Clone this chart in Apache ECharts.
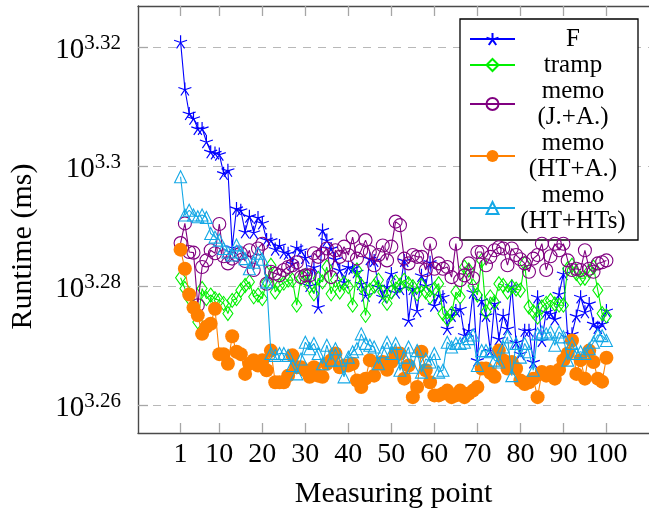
<!DOCTYPE html>
<html>
<head>
<meta charset="utf-8">
<script src="https://cdn.jsdelivr.net/npm/echarts@6/dist/echarts.min.js"></script>
<style>
html,body{margin:0;padding:0;background:#fff;}
#chart{width:649px;height:516px;}
</style>
</head>
<body>
<div id="chart"></div>
<script>
// Measuring points 1..100
const measuringPoints = Array.from({length: 100}, (_, i) => i + 1);

// log10(runtime in ms)
const seriesF = [
3.3209,3.3130,3.3089,3.3081,3.3064,3.3064,3.3042,3.3025,3.3023,3.3021,
3.2989,3.2994,3.2865,3.2930,3.2927,3.2891,3.2917,3.2890,3.2915,3.2906,
3.2878,3.2877,3.2862,3.2868,3.2857,3.2855,3.2838,3.2865,3.2860,3.2848,
3.2801,3.2832,3.2765,3.2894,3.2877,3.2863,3.2845,3.2827,3.2807,3.2832,
3.2830,3.2824,3.2804,3.2785,3.2846,3.2843,3.2799,3.2782,3.2799,3.2821,
3.2790,3.2796,3.2843,3.2743,3.2796,3.2759,3.2818,3.2801,3.2840,3.2768,
3.2785,3.2782,3.2729,3.2751,3.2759,3.2762,3.2718,3.2726,3.2790,3.2676,
3.2776,3.2751,3.2692,3.2771,3.2712,3.2751,3.2729,3.2800,3.2706,3.2687,
3.2726,3.2726,3.2673,3.2782,3.2709,3.2757,3.2754,3.2745,3.2787,3.2821,
3.2715,3.2720,3.2750,3.2782,3.2757,3.2771,3.2737,3.2731,3.2737,3.2759
];
const seriesTramp = [
3.2814,3.2796,3.2780,3.2765,3.2740,3.2796,3.2779,3.2785,3.2779,3.2776,
3.2771,3.2754,3.2776,3.2779,3.2793,3.2801,3.2807,3.2782,3.2785,3.2779,
3.2807,3.2835,3.2790,3.2801,3.2805,3.2810,3.2810,3.2768,3.2813,3.2818,
3.2800,3.2787,3.2813,3.2807,3.2832,3.2787,3.2810,3.2790,3.2805,3.2799,
3.2768,3.2827,3.2801,3.2751,3.2793,3.2800,3.2810,3.2790,3.2771,3.2790,
3.2807,3.2801,3.2810,3.2804,3.2799,3.2787,3.2801,3.2790,3.2782,3.2795,
3.2804,3.2754,3.2745,3.2754,3.2790,3.2782,3.2832,3.2827,3.2800,3.2785,
3.2843,3.2757,3.2782,3.2773,3.2804,3.2801,3.2790,3.2799,3.2795,3.2793,
3.2838,3.2765,3.2757,3.2748,3.2765,3.2771,3.2776,3.2770,3.2768,3.2768,
3.2829,3.2835,3.2821,3.2813,3.2813,3.2825,3.2832,3.2793,3.2754,3.2750
];
const seriesMemoJA = [
3.2872,3.2905,3.2857,3.2856,3.2768,3.2832,3.2843,3.2860,3.2855,3.2904,
3.2850,3.2838,3.2846,3.2852,3.2855,3.2842,3.2860,3.2827,3.2863,3.2871,
3.2804,3.2824,3.2821,3.2818,3.2827,3.2832,3.2835,3.2840,3.2815,3.2818,
3.2818,3.2855,3.2849,3.2854,3.2863,3.2815,3.2860,3.2849,3.2866,3.2852,
3.2882,3.2846,3.2860,3.2877,3.2857,3.2835,3.2852,3.2868,3.2843,3.2866,
3.2908,3.2902,3.2846,3.2838,3.2852,3.2849,3.2849,3.2827,3.2871,3.2829,
3.2838,3.2829,3.2832,3.2815,3.2871,3.2810,3.2818,3.2838,3.2813,3.2857,
3.2857,3.2835,3.2849,3.2860,3.2865,3.2863,3.2835,3.2863,3.2852,3.2845,
3.2838,3.2824,3.2846,3.2852,3.2871,3.2827,3.2850,3.2871,3.2860,3.2871,
3.2843,3.2827,3.2829,3.2827,3.2860,3.2829,3.2824,3.2838,3.2840,3.2843
];
const seriesMemoHTA = [
3.2861,3.2829,3.2786,3.2764,3.2751,3.2720,3.2732,3.2737,3.2762,3.2686,
3.2686,3.2670,3.2716,3.2690,3.2686,3.2653,3.2670,3.2676,3.2667,3.2676,
3.2659,3.2692,3.2639,3.2639,3.2639,3.2650,3.2684,3.2664,3.2664,3.2659,
3.2648,3.2664,3.2650,3.2648,3.2670,3.2676,3.2687,3.2664,3.2667,3.2667,
3.2670,3.2642,3.2631,3.2645,3.2676,3.2650,3.2670,3.2673,3.2660,3.2673,
3.2687,3.2687,3.2645,3.2667,3.2614,3.2631,3.2690,3.2659,3.2639,3.2617,
3.2617,3.2620,3.2625,3.2614,3.2617,3.2625,3.2614,3.2620,3.2625,3.2631,
3.2662,3.2662,3.2655,3.2648,3.2692,3.2676,3.2662,3.2673,3.2662,3.2642,
3.2636,3.2639,3.2645,3.2614,3.2656,3.2650,3.2656,3.2645,3.2660,3.2676,
3.2687,3.2709,3.2653,3.2676,3.2645,3.2692,3.2673,3.2645,3.2640,3.2680
];
const seriesMemoHTHTs = [
3.2983,3.2919,3.2927,3.2919,3.2916,3.2919,3.2915,3.2888,3.2882,3.2877,
3.2863,3.2857,3.2852,3.2869,3.2857,3.2846,3.2829,3.2840,3.2855,3.2845,
3.2807,3.2687,3.2684,3.2687,3.2687,3.2684,3.2667,3.2653,3.2678,3.2706,
3.2695,3.2704,3.2687,3.2670,3.2701,3.2676,3.2695,3.2676,3.2648,3.2681,
3.2690,3.2695,3.2720,3.2704,3.2701,3.2698,3.2670,3.2690,3.2706,3.2687,
3.2704,3.2659,3.2681,3.2698,3.2664,3.2692,3.2656,3.2678,3.2673,3.2687,
3.2656,3.2659,3.2706,3.2698,3.2704,3.2704,3.2706,3.2712,3.2718,3.2667,
3.2692,3.2692,3.2690,3.2676,3.2673,3.2698,3.2715,3.2650,3.2704,3.2681,
3.2704,3.2690,3.2659,3.2720,3.2723,3.2720,3.2723,3.2701,3.2723,3.2715,
3.2676,3.2704,3.2687,3.2690,3.2687,3.2695,3.2706,3.2718,3.2717,3.2709
];

const seriesNames = ['F', 'tramp', 'memo (J.+A.)', 'memo (HT+A.)', 'memo (HT+HTs)'];
const xTickValues = [1, 10, 20, 30, 40, 50, 60, 70, 80, 90, 100];
const yTickValues = [3.26, 3.28, 3.30, 3.32];
const yTickExponents = ['3.26', '3.28', '3.3', '3.32'];

const FONT = '"Liberation Serif", "Times New Roman", serif';
const colors = ['#0000ff', '#00f000', '#800080', '#ff8000', '#14a8e6'];
const starPath = 'path://M0,0L0,-10M0,0L-9.51,-3.09M0,0L-5.88,8.09M0,0L5.88,8.09M0,0L9.51,-3.09';

function pairs(arr) { return arr.map((v, i) => [measuringPoints[i], v]); }

function lineSeries(idx, data, symbol, size, hollow) {
  const c = colors[idx];
  return {
    name: seriesNames[idx],
    type: 'line',
    data: pairs(data),
    symbol: symbol,
    symbolSize: size,
    showSymbol: true,
    lineStyle: {color: c, width: 1.1},
    itemStyle: hollow
      ? {color: 'rgba(255,255,255,0)', borderColor: c, borderWidth: 1.1}
      : {color: c, borderColor: c, borderWidth: symbol === starPath ? 1.2 : 0},
    emphasis: {disabled: true},
    z: 2 + idx
  };
}

const chart = echarts.init(document.getElementById('chart'), null, {renderer: 'canvas'});

const axisLineStyle = {color: '#4a4a4a', width: 1.4};
const tickStyle = {color: '#a6a6a6', width: 1.3};

const option = {
  animation: false,
  backgroundColor: '#ffffff',
  grid: {left: 137, right: -3, top: 6, bottom: 83, containLabel: false},
  xAxis: [{
    type: 'value', min: -8.9, max: 109.9, position: 'bottom',
    axisLine: {show: true, onZero: false, lineStyle: axisLineStyle},
    axisTick: {show: true, inside: true, length: 10, customValues: xTickValues, lineStyle: tickStyle},
    axisLabel: {customValues: xTickValues, fontSize: 28, color: '#000', fontFamily: FONT, margin: 8},
    splitLine: {show: false},
    name: 'Measuring point', nameLocation: 'middle', nameGap: 46,
    nameTextStyle: {fontSize: 30, color: '#000', fontFamily: FONT}
  }, {
    type: 'value', min: -8.9, max: 109.9, position: 'top',
    axisLine: {show: true, onZero: false, lineStyle: axisLineStyle},
    axisTick: {show: true, inside: true, length: 10, customValues: xTickValues, lineStyle: tickStyle},
    axisLabel: {show: false},
    splitLine: {show: false}
  }],
  yAxis: {
    type: 'value', min: 3.2554, max: 3.3269,
    axisLine: {show: true, onZero: false, lineStyle: axisLineStyle},
    axisTick: {show: true, inside: true, length: 10, customValues: yTickValues, lineStyle: tickStyle},
    axisLabel: {
      customValues: yTickValues, margin: 17,
      formatter: function (val) {
        let i = 0;
        for (let k = 0; k < yTickValues.length; k++) if (Math.abs(yTickValues[k] - val) < 1e-6) i = k;
        return '{b|10}{s|' + yTickExponents[i] + '}';
      },
      rich: {
        b: {fontSize: 29, fontFamily: FONT, color: '#000', lineHeight: 28, padding: [9, 0, 3, 0]},
        s: {fontSize: 21, fontFamily: FONT, color: '#000', lineHeight: 20, padding: [6, 0, 14, 0]}
      }
    },
    splitLine: {show: true, lineStyle: {type: [8, 7], color: '#b8b8b8', width: 1.2}},
    name: 'Runtime (ms)', nameLocation: 'middle', nameGap: 100, nameRotate: 90,
    nameTextStyle: {fontSize: 30, color: '#000', fontFamily: FONT, padding: [0, 54, 0, 0]}
  },
  legend: {
    orient: 'vertical', left: 460, top: 19,
    padding: [7, 12, 6, 9], itemGap: 0, itemWidth: 45, itemHeight: 15,
    borderColor: '#000', borderWidth: 1.3, backgroundColor: '#fff',
    data: seriesNames,
    formatter: function (name) {
      const sp = name.indexOf(' ');
      if (sp < 0) return '{t|' + name + '}';
      return '{t|' + name.slice(0, sp) + '}\n{t|' + name.slice(sp + 1) + '}';
    },
    textStyle: {
      fontFamily: FONT, fontSize: 25, color: '#000', lineHeight: 26,
      rich: {t: {fontFamily: FONT, fontSize: 25, color: '#000', width: 106, align: 'center', lineHeight: 26}}
    }
  },
  series: [
    lineSeries(0, seriesF, starPath, 13, false),
    lineSeries(1, seriesTramp, 'diamond', [10, 14], true),
    lineSeries(2, seriesMemoJA, 'circle', 13, true),
    lineSeries(3, seriesMemoHTA, 'circle', 14, false),
    lineSeries(4, seriesMemoHTHTs, 'triangle', 12, true)
  ]
};
chart.setOption(option);
</script>
</body>
</html>
